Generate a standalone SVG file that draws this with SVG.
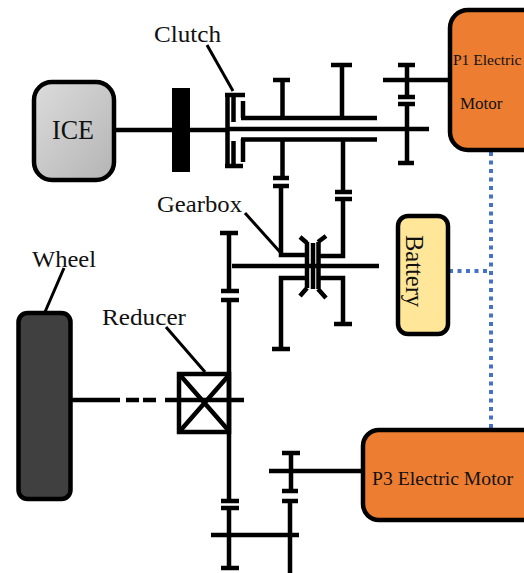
<svg xmlns="http://www.w3.org/2000/svg" width="524" height="573" viewBox="0 0 524 573">
<style>
.s{fill:none;stroke:#000;stroke-width:4.500}
.l{fill:none;stroke:#000;stroke-width:3}
.b{stroke:#000;stroke-width:4.500}
.d{fill:none;stroke:#4472C4;stroke-width:4;stroke-dasharray:4 4.500}
text{font-family:"Liberation Serif","Times New Roman",serif;fill:#111}
</style>
<defs><linearGradient id="g" x1="0" y1="0" x2="1" y2="1"><stop offset="0" stop-color="#dcdcdc"/><stop offset="1" stop-color="#b4b4b4"/></linearGradient></defs>
<rect width="524" height="573" fill="#fff"/>
<g id="connectors">
<path class="d" d="M491 152V430M449 271H491"/>
<path class="s" d="M115 130H227M227 129H429"/>
<path class="s" d="M227.500 93V168M225 95H245M225 166H243M233.500 97V122M233.500 141V164M243 101V118M243 139V162M241 118H377M241 139.500H377"/>
<path class="s" d="M282.500 81V118M273 80H290M282.500 140V178M273 178H289M273 186H289M281 186V255H305M342 66V118M331 65H352M343 140V192M335 192H352M335 199H352M343 199V256H320"/>
<path class="s" d="M407 65V97M398 65H415M398 97H415M398 104H415M407 104V163M398 163H414M383 80H450"/>
<path class="s" d="M232 266H379M229 233V291M220 233H238M221 291H239M221 300H239M229 300V501M221 501H239M221 508H239M229 508V568M221 568H239"/>
<path class="s" d="M305 278H281V349M272 349H290M320 278H343V324M334 324H352"/>
<path class="s" d="M307 242V288M313 243V289M318.500 242V289M300 237L307 243M326 236L318 242M300 296L307 288M326 298L318 289"/>
<path class="s" d="M269 471H363M291 453V491M282 453H300M282 491H298M282 501H298M290 501V573M211 535H299"/>
<path class="s" d="M72 400H120M126 400H139M143 400H156M165 400H244"/>
<path class="l" d="M207 45L233 91M245 213L280 252M64 268L45 312M166 327L205 372"/>
</g>
<g id="ice"><rect x="34" y="82" width="80" height="98" rx="18" fill="url(#g)" class="b"/><text x="52" y="139" font-size="27" textLength="42" lengthAdjust="spacingAndGlyphs">ICE</text></g>
<g id="flywheel"><rect x="172" y="88" width="18" height="84" fill="#000"/></g>
<g id="reducer"><rect x="179" y="374" width="50" height="58" fill="none" class="b"/><path class="s" d="M180 375L229 431M229 375L180 431"/></g>
<g id="p1-motor"><rect x="450" y="10" width="100" height="140" rx="18" fill="#ED7D31" class="b"/><text x="453" y="65" font-size="15.500">P1 Electric</text><text x="460" y="109" font-size="17">Motor</text></g>
<g id="battery"><rect x="398" y="216" width="50" height="118" rx="10" fill="#FFE699" class="b"/><text transform="translate(406 235) rotate(90)" font-size="24.500">Battery</text></g>
<g id="p3-motor"><rect x="363" y="430" width="180" height="90" rx="16" fill="#ED7D31" class="b"/><text x="372" y="485" font-size="19.500" textLength="141" lengthAdjust="spacingAndGlyphs">P3 Electric Motor</text></g>
<g id="wheel"><rect x="18.500" y="313" width="52" height="186" rx="9" fill="#404040" class="b"/></g>
<g id="labels">
<text x="154" y="42" font-size="23" textLength="67" lengthAdjust="spacingAndGlyphs">Clutch</text>
<text x="157" y="212" font-size="23" textLength="85" lengthAdjust="spacingAndGlyphs">Gearbox</text>
<text x="32" y="267" font-size="23" textLength="64" lengthAdjust="spacingAndGlyphs">Wheel</text>
<text x="102" y="325" font-size="23" textLength="84" lengthAdjust="spacingAndGlyphs">Reducer</text>
</g>
</svg>
